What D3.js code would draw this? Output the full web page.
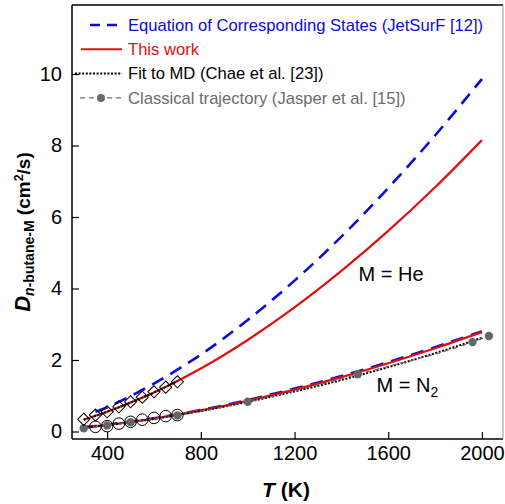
<!DOCTYPE html>
<html>
<head>
<meta charset="utf-8">
<script src="https://cdn.jsdelivr.net/npm/d3@7"></script>
<style>
  body { margin: 0; background: #fff; }
  svg text { font-family: "Liberation Sans", Arial, sans-serif; }
  .axis text { font-size: 20px; fill: #000; }
  .axis line { stroke: #000; stroke-width: 1.2; }
</style>
</head>
<body>
<div id="chart"></div>
<script>
// temperatures (K) for the smooth curves
var tempHe = [350, 400, 500, 600, 700, 800, 1000, 1200, 1400, 1600, 1800, 2000];
var tempRed = [300, 350, 400, 500, 600, 700, 800, 1000, 1200, 1400, 1600, 1800, 2000];

// M = He
var eocsHe = [0.55, 0.68, 0.99, 1.34, 1.73, 2.15, 3.12, 4.22, 5.45, 6.81, 8.28, 9.86];
var thisWorkHe = [0.33, 0.44, 0.55, 0.81, 1.09, 1.41, 1.76, 2.56, 3.47, 4.49, 5.61, 6.83, 8.15];
var mdTempHe = [300, 350, 400, 500, 600, 700];
var mdFitHe = [0.33, 0.44, 0.55, 0.81, 1.09, 1.41];

// M = N2
var eocsN2 = [0.12, 0.15, 0.19, 0.28, 0.37, 0.48, 0.60, 0.88, 1.20, 1.55, 1.94, 2.36, 2.80];
var thisWorkN2 = [0.11, 0.15, 0.18, 0.27, 0.36, 0.47, 0.59, 0.86, 1.17, 1.52, 1.91, 2.33, 2.78];
var mdFitN2 = [0.11, 0.14, 0.18, 0.26, 0.35, 0.46, 0.57, 0.83, 1.12, 1.44, 1.80, 2.19, 2.62];

// classical trajectory (Jasper et al.)
var jasperTemp = [300, 400, 500, 700, 1000, 1470, 1960, 2030];
var jasperD = [0.09, 0.17, 0.26, 0.45, 0.83, 1.60, 2.50, 2.67];

// experimental symbols
var diamondTemp = [300, 350, 400, 450, 500, 550, 600, 650, 700];
var diamondD = [0.34, 0.46, 0.55, 0.69, 0.83, 0.96, 1.11, 1.24, 1.39];
var circleTemp = [350, 400, 450, 500, 550, 600, 650, 700];
var circleD = [0.13, 0.15, 0.22, 0.27, 0.33, 0.38, 0.43, 0.46];

var xTicks = [400, 800, 1200, 1600, 2000];
var yTicks = [0, 2, 4, 6, 8, 10];

var legendItems = [
  {label: "Equation of Corresponding States (JetSurF [12])", color: "#0a0ae0", type: "dash"},
  {label: "This work", color: "#e01010", type: "solid"},
  {label: "Fit to MD (Chae et al. [23])", color: "#000", type: "dot"},
  {label: "Classical trajectory (Jasper et al. [15])", color: "#6b6b6b", type: "traj"}
];

var blue = "#0a0ae0", red = "#e01010", grey = "#666";

var margin = {top: 5, right: 2, bottom: 65, left: 72},
  width = 505,
  height = 504,
  Chartwidth = width - margin.left - margin.right,
  Chartheight = height - margin.top - margin.bottom;

var svg = d3.select("#chart").append("svg")
  .attr("width", width)
  .attr("height", height);

var x = d3.scaleLinear().domain([250, 2090]).range([0, Chartwidth]);
var y = d3.scaleLinear().domain([-0.21, 11.93]).range([Chartheight, 0]);

var g = svg.append("g")
  .attr("transform", "translate(" + margin.left + "," + margin.top + ")");

function zip(ts, vs) { return ts.map(function(t, i) { return [t, vs[i]]; }); }

var line = d3.line()
  .x(function(d) { return x(d[0]); })
  .y(function(d) { return y(d[1]); })
  .curve(d3.curveMonotoneX);

// axes
g.append("g")
  .attr("class", "x axis")
  .attr("transform", "translate(0," + Chartheight + ")")
  .call(d3.axisBottom(x).tickValues(xTicks).tickFormat(d3.format("d"))
    .tickSizeInner(-7).tickSizeOuter(0).tickPadding(7))
  .call(function(a) { a.select(".domain").remove(); });

g.append("g")
  .attr("class", "y axis")
  .call(d3.axisLeft(y).tickValues(yTicks).tickFormat(d3.format("d"))
    .tickSizeInner(-7).tickSizeOuter(0).tickPadding(10))
  .call(function(a) { a.select(".domain").remove(); });

// curves
var curves = [
  {data: zip(tempHe, eocsHe), color: blue, w: 2.6, dash: "13,8"},
  {data: zip(tempRed, eocsN2), color: blue, w: 2.6, dash: "13,8"},
  {data: zip(tempRed, thisWorkHe), color: red, w: 2.2, dash: null},
  {data: zip(tempRed, thisWorkN2), color: red, w: 2.2, dash: null},
  {data: zip(mdTempHe, mdFitHe), color: "#000", w: 2, dash: "2,1.6"},
  {data: zip(tempRed, mdFitN2), color: "#000", w: 2, dash: "2,1.6"},
  {data: zip(jasperTemp, jasperD), color: grey, w: 1.2, dash: "5,4"}
];

g.selectAll(".curve")
  .data(curves)
  .enter().append("path")
  .attr("class", "curve")
  .attr("d", function(d) { return line(d.data); })
  .attr("fill", "none")
  .attr("stroke", function(d) { return d.color; })
  .attr("stroke-width", function(d) { return d.w; })
  .attr("stroke-dasharray", function(d) { return d.dash; });

// Jasper points
g.selectAll(".jasper")
  .data(zip(jasperTemp, jasperD))
  .enter().append("circle")
  .attr("class", "jasper")
  .attr("cx", function(d) { return x(d[0]); })
  .attr("cy", function(d) { return y(d[1]); })
  .attr("r", 4.2)
  .attr("fill", grey);

// open diamonds (He)
g.selectAll(".diamond")
  .data(zip(diamondTemp, diamondD))
  .enter().append("path")
  .attr("class", "diamond")
  .attr("transform", function(d) { return "translate(" + x(d[0]) + "," + y(d[1]) + ") rotate(45)"; })
  .attr("d", "M-4.3,-4.3H4.3V4.3H-4.3Z")
  .attr("fill", "none")
  .attr("stroke", "#000")
  .attr("stroke-width", 1);

// open circles (N2)
g.selectAll(".ring")
  .data(zip(circleTemp, circleD))
  .enter().append("circle")
  .attr("class", "ring")
  .attr("cx", function(d) { return x(d[0]); })
  .attr("cy", function(d) { return y(d[1]); })
  .attr("r", 5.8)
  .attr("fill", "none")
  .attr("stroke", "#000")
  .attr("stroke-width", 1);

// frame
g.append("line").attr("x1", 0).attr("x2", Chartwidth).attr("y1", 0).attr("y2", 0)
  .attr("stroke", "#000").attr("stroke-width", 1.5);
g.append("line").attr("x1", 0).attr("x2", 0).attr("y1", 0).attr("y2", Chartheight)
  .attr("stroke", "#000").attr("stroke-width", 1.5);
g.append("line").attr("x1", 0).attr("x2", Chartwidth).attr("y1", Chartheight).attr("y2", Chartheight)
  .attr("stroke", "#000").attr("stroke-width", 1.5);
g.append("line").attr("x1", Chartwidth).attr("x2", Chartwidth).attr("y1", 0).attr("y2", Chartheight)
  .attr("stroke", "#999").attr("stroke-width", 1);

// legend
var legend = g.append("g").attr("transform", "translate(0,0)");
var leg = legend.selectAll(".leg")
  .data(legendItems)
  .enter().append("g")
  .attr("class", "leg")
  .attr("transform", function(d, i) { return "translate(0," + (20 + i * 24.3) + ")"; });

leg.each(function(d) {
  var s = d3.select(this);
  if (d.type === "dash") {
    s.append("line").attr("x1", 18).attr("x2", 50).attr("y1", 0).attr("y2", 0)
      .attr("stroke", d.color).attr("stroke-width", 2.6).attr("stroke-dasharray", "10,7");
  } else if (d.type === "solid") {
    s.append("line").attr("x1", 9).attr("x2", 50).attr("y1", 0).attr("y2", 0)
      .attr("stroke", d.color).attr("stroke-width", 2);
  } else if (d.type === "dot") {
    s.append("line").attr("x1", 3).attr("x2", 50).attr("y1", 0).attr("y2", 0)
      .attr("stroke", d.color).attr("stroke-width", 2).attr("stroke-dasharray", "2,1.6");
  } else {
    s.append("line").attr("x1", 8).attr("x2", 50).attr("y1", 0).attr("y2", 0)
      .attr("stroke", d.color).attr("stroke-width", 1.2).attr("stroke-dasharray", "5,4");
    s.append("circle").attr("cx", 29).attr("cy", 0).attr("r", 4).attr("fill", d.color);
  }
  s.append("text")
    .attr("x", 56)
    .attr("y", 0)
    .attr("dy", "0.35em")
    .attr("font-size", "16.6px")
    .attr("fill", d.color)
    .text(d.label);
});

// annotations
g.append("text")
  .attr("x", x(1200) + 64)
  .attr("y", y(4.2))
  .attr("font-size", "20px")
  .text("M = He");

var n2 = g.append("text")
  .attr("x", x(1200) + 82)
  .attr("y", y(1.1))
  .attr("font-size", "20px");
n2.append("tspan").text("M = N");
n2.append("tspan").attr("font-size", "14px").attr("dy", 5).text("2");

// axis titles
var xt = svg.append("text")
  .attr("x", 286)
  .attr("y", 497)
  .attr("text-anchor", "middle")
  .attr("font-size", "21px")
  .attr("font-weight", "bold");
xt.append("tspan").attr("font-style", "italic").text("T");
xt.append("tspan").text(" (K)");

var yt = svg.append("text")
  .attr("transform", "translate(30," + 232 + ") rotate(-90)")
  .attr("text-anchor", "middle")
  .attr("font-weight", "bold");
yt.append("tspan").attr("font-size", "22px").attr("font-style", "italic").text("D");
var sub = yt.append("tspan").attr("font-size", "14px").attr("dy", 4);
sub.append("tspan").attr("font-style", "italic").text("n");
sub.append("tspan").text("-butane-M");
yt.append("tspan").attr("font-size", "19px").attr("dy", -4).text(" (cm");
yt.append("tspan").attr("font-size", "12.5px").attr("dy", -7).text("2");
yt.append("tspan").attr("font-size", "19px").attr("dy", 7).text("/s)");
</script>
</body>
</html>
